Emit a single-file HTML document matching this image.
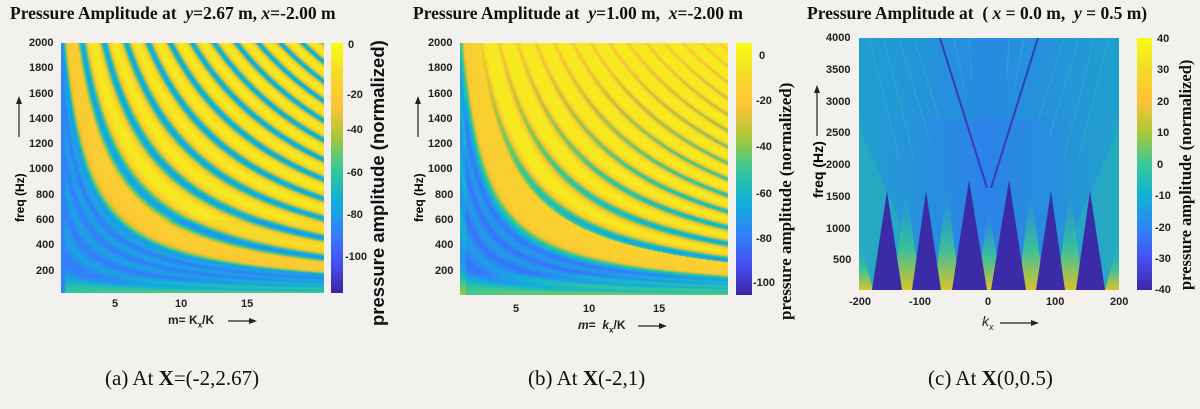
<!DOCTYPE html>
<html><head><meta charset="utf-8"><style>
body{margin:0;background:#f2f1ee;width:1200px;height:409px;overflow:hidden;position:relative;font-family:"Liberation Sans",sans-serif}
.t{position:absolute;font-family:"Liberation Serif",serif;font-weight:bold;font-size:17.5px;white-space:nowrap;color:#111}
.tk{position:absolute;font-weight:bold;font-size:11px;color:#222;white-space:nowrap}
.cap{position:absolute;font-family:"Liberation Serif",serif;font-size:21px;white-space:nowrap;color:#111;top:366px}
.rot{position:absolute;transform:rotate(-90deg);transform-origin:0 0;white-space:nowrap;font-weight:bold}
canvas{position:absolute}
</style></head><body>
<div class="t" style="left:10px;top:3px">Pressure Amplitude at &nbsp;<i>y</i>=2.67 m, <i>x</i>=-2.00 m</div>
<div class="t" style="left:413px;top:3px">Pressure Amplitude at &nbsp;<i>y</i>=1.00 m, &nbsp;<i>x</i>=-2.00 m</div>
<div class="t" style="left:807px;top:3px">Pressure Amplitude at &nbsp;( <i>x</i> = 0.0 m, &nbsp;<i>y</i> = 0.5 m)</div>

<canvas id="ca" width="263" height="250" style="left:61px;top:43px"></canvas>
<canvas id="cba" width="12" height="250" style="left:331px;top:43px"></canvas>
<canvas id="cb" width="268" height="252" style="left:460px;top:43px"></canvas>
<canvas id="cbb" width="16" height="252" style="left:736px;top:43px"></canvas>
<canvas id="cbc" width="15" height="252" style="left:1137px;top:38px"></canvas>

<svg style="position:absolute;left:859px;top:38px" width="260" height="252" viewBox="0 0 260 252">
<defs>
<linearGradient id="bg" x1="0" y1="0" x2="1" y2="0">
<stop offset="0" stop-color="#22a0cc"/><stop offset="0.25" stop-color="#2690dd"/><stop offset="0.5" stop-color="#2d82e8"/><stop offset="0.75" stop-color="#2690dd"/><stop offset="1" stop-color="#22a0cc"/></linearGradient>
<linearGradient id="sp" x1="0" y1="1" x2="0" y2="0"><stop offset="0" stop-color="#d8c42c"/><stop offset="0.4" stop-color="#3cbf9a"/><stop offset="1" stop-color="#22a8c4" stop-opacity="0"/></linearGradient>
</defs>
<rect width="260" height="252" fill="url(#bg)"/>
<rect x="0" y="0" width="260" height="80" fill="#1f9bd3" opacity="0.35"/>
<g stroke="#36b8cc" stroke-width="1" opacity="0.55">
<path d="M10 0L40 120M25 0L55 120M40 0L70 100M55 0L80 80M95 0L105 50M110 0L112 40M150 0L148 40M165 0L155 50M205 0L180 80M220 0L190 100M235 0L205 120M250 0L220 120"/>
</g>
<path d="M0 90L0 260L75 260ZM260 90L260 260L185 260Z" fill="#2ab3ba" opacity="0.55"/>
<g fill="url(#sp)">
<path d="M0 252L0 200L14 252Z"/><path d="M34 252L47 150L62 252Z"/><path d="M75 252L88 150L101 252Z"/><path d="M117 252L130 170L143 252Z"/><path d="M159 252L172 150L185 252Z"/><path d="M198 252L211 150L224 252Z"/><path d="M246 252L260 200L260 252Z"/>
</g>
<g fill="#3b2ba6">
<polygon points="13,252 28,153 43,252"/>
<polygon points="53,252 67,153 82,252"/>
<polygon points="93,252 110,142 128,252"/>
<polygon points="132,252 150,142 167,252"/>
<polygon points="177,252 192,153 206,252"/>
<polygon points="217,252 231,153 246,252"/>
</g>
<g stroke="#3a2fb0" stroke-width="2" fill="none" opacity="0.85">
<path d="M81 0L128 150M179 0L132 150"/>
</g>
</svg>

<!-- panel a ticks -->
<div class="tk" style="left:29px;top:37px">2000</div><div class="tk" style="left:29px;top:62px">1800</div><div class="tk" style="left:29px;top:88px">1600</div><div class="tk" style="left:29px;top:113px">1400</div><div class="tk" style="left:29px;top:138px">1200</div><div class="tk" style="left:29px;top:163px">1000</div><div class="tk" style="left:36px;top:189px">800</div><div class="tk" style="left:36px;top:214px">600</div><div class="tk" style="left:36px;top:239px">400</div><div class="tk" style="left:36px;top:265px">200</div>
<div class="tk" style="left:112px;top:298px">5</div><div class="tk" style="left:175px;top:298px">10</div><div class="tk" style="left:241px;top:298px">15</div>
<div class="tk" style="left:348px;top:39px">0</div><div class="tk" style="left:347px;top:89px">-20</div><div class="tk" style="left:347px;top:124px">-40</div><div class="tk" style="left:347px;top:167px">-60</div><div class="tk" style="left:347px;top:209px">-80</div><div class="tk" style="left:345px;top:251px">-100</div>
<div class="rot" style="left:13px;top:222px;font-size:12px">freq (Hz)</div>
<svg style="position:absolute;left:14px;top:95px" width="10" height="42"><path d="M5 42V4" stroke="#222" stroke-width="1.2"/><path d="M2 9L5 1L8 9Z" fill="#222"/></svg>
<div class="tk" style="left:168px;top:313px;font-size:12px">m= K<sub style="font-size:8px">x</sub>/K</div>
<svg style="position:absolute;left:228px;top:316px" width="30" height="10"><path d="M0 5H26" stroke="#222" stroke-width="1.2"/><path d="M21 2L29 5L21 8Z" fill="#222"/></svg>
<div class="rot" style="left:367px;top:326px;font-size:18.5px;color:#111">pressure amplitude (normalized)</div>

<!-- panel b ticks -->
<div class="tk" style="left:428px;top:37px">2000</div><div class="tk" style="left:428px;top:62px">1800</div><div class="tk" style="left:428px;top:88px">1600</div><div class="tk" style="left:428px;top:113px">1400</div><div class="tk" style="left:428px;top:138px">1200</div><div class="tk" style="left:428px;top:163px">1000</div><div class="tk" style="left:435px;top:189px">800</div><div class="tk" style="left:435px;top:214px">600</div><div class="tk" style="left:435px;top:239px">400</div><div class="tk" style="left:435px;top:265px">200</div>
<div class="tk" style="left:513px;top:303px">5</div><div class="tk" style="left:583px;top:303px">10</div><div class="tk" style="left:653px;top:303px">15</div>
<div class="tk" style="left:759px;top:50px">0</div><div class="tk" style="left:756px;top:95px">-20</div><div class="tk" style="left:756px;top:141px">-40</div><div class="tk" style="left:756px;top:188px">-60</div><div class="tk" style="left:756px;top:233px">-80</div><div class="tk" style="left:753px;top:277px">-100</div>
<div class="rot" style="left:412px;top:222px;font-size:12px">freq (Hz)</div>
<svg style="position:absolute;left:413px;top:95px" width="10" height="42"><path d="M5 42V4" stroke="#222" stroke-width="1.2"/><path d="M2 9L5 1L8 9Z" fill="#222"/></svg>
<div class="tk" style="left:578px;top:318px;font-size:12px"><i>m</i>= &nbsp;<i>k</i><sub style="font-size:8px">x</sub>/K</div>
<svg style="position:absolute;left:638px;top:321px" width="30" height="10"><path d="M0 5H26" stroke="#222" stroke-width="1.2"/><path d="M21 2L29 5L21 8Z" fill="#222"/></svg>
<div class="rot" style="left:776px;top:320px;font-size:17px;font-family:'Liberation Serif',serif;color:#111">pressure amplitude (normalized)</div>

<!-- panel c ticks -->
<div class="tk" style="left:826px;top:32px">4000</div><div class="tk" style="left:826px;top:64px">3500</div><div class="tk" style="left:826px;top:96px">3000</div><div class="tk" style="left:826px;top:127px">2500</div><div class="tk" style="left:826px;top:159px">2000</div><div class="tk" style="left:826px;top:191px">1500</div><div class="tk" style="left:826px;top:223px">1000</div><div class="tk" style="left:833px;top:254px">500</div>
<div class="tk" style="left:849px;top:296px">-200</div><div class="tk" style="left:909px;top:296px">-100</div><div class="tk" style="left:985px;top:296px">0</div><div class="tk" style="left:1046px;top:296px">100</div><div class="tk" style="left:1110px;top:296px">200</div>
<div class="tk" style="left:1157px;top:33px">40</div><div class="tk" style="left:1157px;top:64px">30</div><div class="tk" style="left:1157px;top:96px">20</div><div class="tk" style="left:1157px;top:127px">10</div><div class="tk" style="left:1157px;top:159px">0</div><div class="tk" style="left:1155px;top:190px">-10</div><div class="tk" style="left:1155px;top:222px">-20</div><div class="tk" style="left:1155px;top:253px">-30</div><div class="tk" style="left:1155px;top:284px">-40</div>
<div class="rot" style="left:810px;top:198px;font-size:14px">freq (Hz)</div>
<svg style="position:absolute;left:812px;top:84px" width="10" height="52"><path d="M5 52V4" stroke="#222" stroke-width="1.2"/><path d="M2 9L5 1L8 9Z" fill="#222"/></svg>
<div style="position:absolute;left:982px;top:313px;font-size:14px;font-style:italic;color:#222">k<sub style="font-size:9px">x</sub></div>
<svg style="position:absolute;left:1000px;top:318px" width="40" height="10"><path d="M0 5H36" stroke="#222" stroke-width="1.2"/><path d="M31 2L39 5L31 8Z" fill="#222"/></svg>
<div class="rot" style="left:1176px;top:290px;font-size:16.5px;font-family:'Liberation Serif',serif;color:#111">pressure amplitude (normalized)</div>

<div class="cap" style="left:105px">(a) At <b>X</b>=(-2,2.67)</div>
<div class="cap" style="left:528px">(b) At <b>X</b>(-2,1)</div>
<div class="cap" style="left:928px">(c) At <b>X</b>(0,0.5)</div>

<script>
var P=[[0,62,38,168],[.125,71,82,244],[.25,46,135,247],[.375,18,177,214],[.5,55,200,151],[.625,171,199,57],[.75,254,195,56],[.875,245,219,40],[1,249,251,20]];
function par(v){v=Math.max(0,Math.min(1,v));for(var i=1;i<P.length;i++){if(v<=P[i][0]){var a=P[i-1],b=P[i],t=(v-a[0])/(b[0]-a[0]);return [a[1]+(b[1]-a[1])*t,a[2]+(b[2]-a[2])*t,a[3]+(b[3]-a[3])*t];}}return P[8].slice(1);}
function cbar(id){var c=document.getElementById(id),x=c.getContext('2d'),h=c.height;for(var y=0;y<h;y++){var k=par(1-y/(h-1));x.fillStyle='rgb('+k.map(Math.round)+')';x.fillRect(0,y,c.width,1);}}
cbar('cba');cbar('cbb');cbar('cbc');
function sig(z){return 1/(1+Math.exp(-z));}
function draw(id,fn){var c=document.getElementById(id),x=c.getContext('2d'),W=c.width,H=c.height,im=x.createImageData(W,H);
for(var j=0;j<H;j++)for(var i=0;i<W;i++){var m=1+i/(W-1)*19.8,f=2000-j/(H-1)*1970;var k=par(fn(m,f));var o=(j*W+i)*4;im.data[o]=k[0];im.data[o+1]=k[1];im.data[o+2]=k[2];im.data[o+3]=255;}
x.putImageData(im,0,0);}
draw('ca',function(m,f){
 var q=(f-20)*(m+0.5);
 var low=0.28+0.05*Math.sin(q/110)+(f<150?(150-f)/150*0.25:0);
 if(m<1.25)low=0.24;
 var hi;
 var p=(q-6100)/3300;var fr=p-Math.round(p);
 if(q<5000){hi=0.8;}else{hi=0.93-0.6*Math.exp(-fr*fr/(2*0.14*0.14));if(f<600)hi-=0.05;if(q<6100)hi=Math.min(hi,0.8+0.13*0);}
 var s=sig((q-3500)/150);return low*(1-s)+hi*s;});
draw('cb',function(m,f){
 var q=(f-20)*(m+0.5);
 var low=0.26+0.05*Math.sin(q/110)+(f<200?(200-f)/200*0.3:0)+(m<1.4?0.08:0);
 var hi;
 if(q<5600){hi=0.81;}else{var p=(q-6000)/2700;var fr=p-Math.round(p);var lf=1-f/2000;var sg=0.06+0.13*lf;var d=0.18+0.52*lf;hi=0.93-d*Math.exp(-fr*fr/(2*sg*sg));}
 var s=sig((q-3200)/150);return low*(1-s)+hi*s;});
</script>
</body></html>
